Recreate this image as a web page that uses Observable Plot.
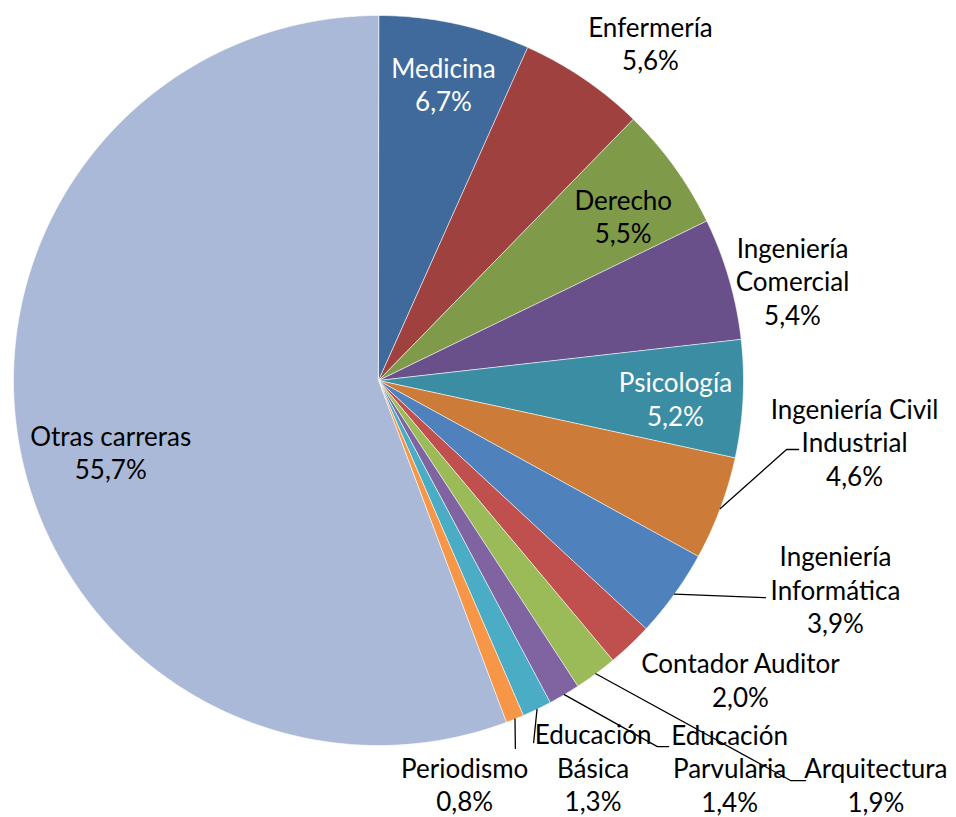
<!DOCTYPE html>
<html>
<head>
<meta charset="utf-8">
<script src="https://cdn.jsdelivr.net/npm/d3@7"></script>
<script src="https://cdn.jsdelivr.net/npm/@observablehq/plot@0.6"></script>
<style>
  html, body { margin: 0; padding: 0; background: #ffffff; }
  #chart { width: 956px; height: 817px; }
</style>
</head>
<body>
<div id="chart"></div>
<script>
// ---- data ----
const categories = [
  "Medicina", "Enfermería", "Derecho", "Ingeniería\nComercial", "Psicología",
  "Ingeniería Civil\nIndustrial", "Ingeniería\nInformática", "Contador Auditor",
  "Arquitectura", "Educación\nParvularia", "Educación\nBásica", "Periodismo", "Otras carreras"
];
const shares = [6.7, 5.6, 5.5, 5.4, 5.2, 4.6, 3.9, 2.0, 1.9, 1.4, 1.3, 0.8, 55.7];
const colors = [
  "#406a9c", "#9f413f", "#7f9a48", "#69508a", "#3b8da4",
  "#cc7b38", "#4f81bd", "#c0504d", "#9bbb59", "#8064a2",
  "#4bacc6", "#f79646", "#aab9d7"
];
const textColors = ["#ffffff", "#000000", "#000000", "#000000", "#ffffff",
  "#000000", "#000000", "#000000", "#000000", "#000000", "#000000", "#000000", "#000000"];

// ---- label layout (angle offset from slice middle in degrees, distance in radius units) ----
const labelAngleOffset = [0.3, 4.65, 1.9, 2.6, 0.5, -13.2, -11.3, -6.9, -14.4, -11.6, -3.3, 9.9, -4.6];
const labelDistance   = [0.832, 1.188, 0.808, 1.167, 0.815, 1.315, 1.376, 1.286, 1.755, 1.432, 1.211, 1.130, 0.759];
// leader line bends / ends, in radius units (null = no leader)
const leaderPoints = [
  null, null, null, null, null,
  [[1.118, -0.189], [1.151, -0.189]],
  [[1.060, -0.595]],
  null,
  [[1.129, -1.096], [1.170, -1.096]],
  [[0.764, -1.003], [0.795, -1.003]],
  [[0.425, -0.992]],
  [[0.375, -1.008]],
  null
];

// ---- geometry from the data ----
const rows = categories.map((c, i) => ({name: c, value: shares[i], i}));
const arcs = d3.pie().sort(null).value(d => d.value).startAngle(0).endAngle(2 * Math.PI)(rows);

const slicePts = [];
for (const a of arcs) {
  const n = Math.max(4, Math.ceil((a.endAngle - a.startAngle) / (Math.PI / 360)));
  slicePts.push({name: a.data.name, x: 0, y: 0});
  for (let k = 0; k <= n; k++) {
    const t = a.startAngle + (a.endAngle - a.startAngle) * k / n;
    slicePts.push({name: a.data.name, x: Math.sin(t), y: Math.cos(t)});
  }
}

const labels = arcs.map(a => {
  const i = a.data.i;
  const mid = (a.startAngle + a.endAngle) / 2 + labelAngleOffset[i] * Math.PI / 180;
  const d = labelDistance[i];
  return {
    x: d * Math.sin(mid), y: d * Math.cos(mid),
    text: a.data.name + "\n" + a.data.value.toFixed(1).replace(".", ",") + "%",
    color: textColors[i]
  };
});

const leaders = [];
arcs.forEach(a => {
  const i = a.data.i;
  if (!leaderPoints[i]) return;
  const mid = (a.startAngle + a.endAngle) / 2;
  leaders.push({id: i, x: Math.sin(mid), y: Math.cos(mid)});
  for (const p of leaderPoints[i]) leaders.push({id: i, x: p[0], y: p[1]});
});

const chart = Plot.plot({
  width: 956,
  height: 817,
  marginLeft: 13,
  marginRight: 213,
  marginTop: 15,
  marginBottom: 72,
  x: {domain: [-1, 1], axis: null},
  y: {domain: [-1, 1], axis: null},
  color: {domain: categories, range: colors},
  style: {fontFamily: "Lato, 'Open Sans', sans-serif", background: "#ffffff"},
  marks: [
    Plot.line(slicePts, {x: "x", y: "y", z: "name", fill: "name", stroke: "#ffffff", strokeWidth: 0.6, curve: "linear-closed"}),
    Plot.line(leaders, {x: "x", y: "y", z: "id", stroke: "#000000", strokeWidth: 1.3}),
    Plot.text(labels, {x: "x", y: "y", text: "text", fill: "color", fontSize: 26, lineHeight: 1.29, textAnchor: "middle", lineAnchor: "middle"})
  ]
});
document.getElementById("chart").appendChild(chart);
</script>
</body>
</html>
